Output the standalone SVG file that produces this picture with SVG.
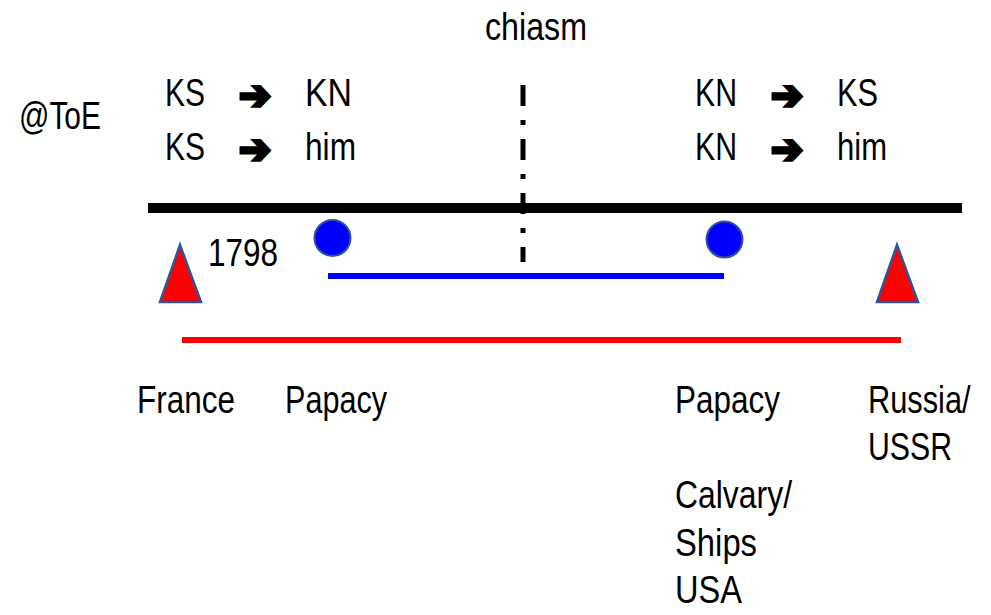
<svg xmlns="http://www.w3.org/2000/svg" width="991" height="615" viewBox="0 0 991 615">
<style>
.t{font-family:"Liberation Sans",Arial,sans-serif;font-size:38px;fill:#000}
.ar{font-family:"DejaVu Sans",sans-serif;font-size:40px;font-weight:bold;fill:#000;stroke:#000;stroke-width:3.5;stroke-linejoin:miter}
.dot{fill:#0000FF;stroke:#2F5597;stroke-width:2}
.tri{fill:#FF0000;stroke:#2F5597;stroke-width:2.5;stroke-linejoin:miter}
</style>
<rect width="991" height="615" fill="#fff"/>
<g id="connectors">
<line x1="148" y1="208" x2="962" y2="208" stroke="#000" stroke-width="10"/>
<line x1="523" y1="85" x2="523" y2="262" stroke="#000" stroke-width="5" stroke-dasharray="21 14 5 14"/>
<line x1="328" y1="276" x2="724" y2="276" stroke="#0000FF" stroke-width="6"/>
<line x1="182" y1="340" x2="901" y2="340" stroke="#FF0000" stroke-width="6"/>
</g>
<g id="label-chiasm"><text class="t" x="485" y="40" textLength="102" lengthAdjust="spacingAndGlyphs">chiasm</text></g>
<g id="label-toe"><text class="t" x="19" y="129" textLength="82" lengthAdjust="spacingAndGlyphs">@ToE</text></g>
<g id="left-rules">
<text class="t" x="165" y="105.5" textLength="40" lengthAdjust="spacingAndGlyphs">KS</text>
<text class="ar" x="239" y="108.5" textLength="32" lengthAdjust="spacingAndGlyphs">➔</text>
<text class="t" x="305" y="105.5" textLength="47" lengthAdjust="spacingAndGlyphs">KN</text>
<text class="t" x="165" y="160" textLength="40" lengthAdjust="spacingAndGlyphs">KS</text>
<text class="ar" x="239" y="163" textLength="32" lengthAdjust="spacingAndGlyphs">➔</text>
<text class="t" x="305" y="160" textLength="51" lengthAdjust="spacingAndGlyphs">him</text>
</g>
<g id="right-rules">
<text class="t" x="695" y="105.5" textLength="42" lengthAdjust="spacingAndGlyphs">KN</text>
<text class="ar" x="771" y="108.5" textLength="32" lengthAdjust="spacingAndGlyphs">➔</text>
<text class="t" x="837" y="105.5" textLength="41" lengthAdjust="spacingAndGlyphs">KS</text>
<text class="t" x="695" y="160" textLength="42" lengthAdjust="spacingAndGlyphs">KN</text>
<text class="ar" x="771" y="163" textLength="32" lengthAdjust="spacingAndGlyphs">➔</text>
<text class="t" x="837" y="160" textLength="50" lengthAdjust="spacingAndGlyphs">him</text>
</g>
<g id="france-marker"><polygon class="tri" points="180,245 160,302 201,302"/></g>
<g id="russia-marker"><polygon class="tri" points="897,245 877,302 918,302"/></g>
<g id="papacy-start"><circle class="dot" cx="332.5" cy="238" r="18"/></g>
<g id="papacy-end"><circle class="dot" cx="724.5" cy="239.5" r="18"/></g>
<g id="label-1798"><text class="t" x="208" y="265.5" textLength="70" lengthAdjust="spacingAndGlyphs">1798</text></g>
<g id="label-france"><text class="t" x="137" y="413" textLength="98" lengthAdjust="spacingAndGlyphs">France</text></g>
<g id="label-papacy-left"><text class="t" x="285" y="413" textLength="102" lengthAdjust="spacingAndGlyphs">Papacy</text></g>
<g id="label-papacy-right"><text class="t" x="675" y="413" textLength="105" lengthAdjust="spacingAndGlyphs">Papacy</text></g>
<g id="label-russia">
<text class="t" transform="translate(868,413) scale(0.81,1)">Russia/</text>
<text class="t" x="868" y="460" textLength="84" lengthAdjust="spacingAndGlyphs">USSR</text>
</g>
<g id="label-calvary">
<text class="t" x="675" y="508" textLength="117" lengthAdjust="spacingAndGlyphs">Calvary/</text>
<text class="t" x="675" y="556" textLength="82" lengthAdjust="spacingAndGlyphs">Ships</text>
<text class="t" x="675" y="603" textLength="67" lengthAdjust="spacingAndGlyphs">USA</text>
</g>
</svg>
